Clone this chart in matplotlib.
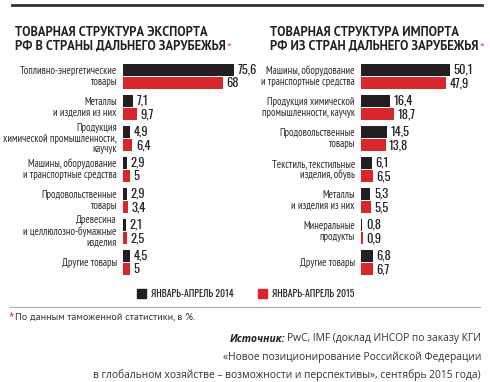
import matplotlib
matplotlib.use("Agg")
import matplotlib.pyplot as plt
from matplotlib.lines import Line2D
from matplotlib.patches import Rectangle

# данные
exp_labels = ["Топливно-энергетические\nтовары", "Металлы\nи изделия из них",
              "Продукция\nхимической промышленности,\nкаучук",
              "Машины, оборудование\nи транспортные средства",
              "Продовольственные\nтовары", "Древесина\nи целлюлозно-бумажные\nизделия",
              "Другие товары"]
exp_2014 = [75.6, 7.1, 4.9, 2.9, 2.9, 2.1, 4.5]
exp_2015 = [68, 9.7, 6.4, 5, 3.4, 2.5, 5]

imp_labels = ["Машины, оборудование\nи транспортные средства",
              "Продукция химической\nпромышленности, каучук",
              "Продовольственные\nтовары", "Текстиль, текстильные\nизделия, обувь",
              "Металлы\nи изделия из них", "Минеральные\nпродукты", "Другие товары"]
imp_2014 = [50.1, 16.4, 14.5, 6.1, 5.3, 0.8, 6.8]
imp_2015 = [47.9, 18.7, 13.8, 6.5, 5.5, 0.9, 6.7]

legend_labels = ["ЯНВАРЬ-АПРЕЛЬ 2014", "ЯНВАРЬ-АПРЕЛЬ 2015"]

BLACK = "#231f20"
RED = "#d8262c"
W, H = 490, 382
plt.rcParams["font.family"] = ["Open Sans", "DejaVu Sans"]
narrow = ["PT Sans Narrow", "Roboto", "DejaVu Sans"]
digits = ["Oswald", "PT Sans Narrow", "DejaVu Sans"]
head = ["PT Sans", "Open Sans", "DejaVu Sans"]

fig = plt.figure(figsize=(W / 100, H / 100), dpi=100)


def px(x, y):
    return x / W, 1 - y / H


def panel(left, scale, labels, v14, v15):
    width = 120
    ax = fig.add_axes([left / W, 1 - 278 / H, width / W, 217 / H])
    ax.set_xlim(0, width / scale)
    ax.set_ylim(6.5, -0.5)
    ax.axis("off")
    pos = list(range(len(labels)))
    ax.barh([p - 0.22 for p in pos], v14, height=0.38, color=BLACK)
    ax.barh([p + 0.22 for p in pos], v15, height=0.38, color=RED)
    for p, a, b, lab in zip(pos, v14, v15, labels):
        for val, off in ((a, -0.22), (b, 0.22)):
            ax.annotate(f"{val:g}".replace(".", ","), (val, p + off), xytext=(2.5, 0),
                        textcoords="offset points", va="center", ha="left",
                        fontsize=9, fontweight="bold", family=digits, color=BLACK)
        ax.annotate(lab, (0, p), xytext=(-4.5, 0), textcoords="offset points",
                    va="center", ha="right", fontsize=7.6, family=narrow,
                    color="#2a2a2a", linespacing=1.1)
    return ax


panel(123, 1.47, exp_labels, exp_2014, exp_2015)
panel(361, 1.78, imp_labels, imp_2014, imp_2015)

# заголовки
fig.add_artist(Line2D([12 / W, 482 / W], [1 - 5 / H] * 2, color="#333333", lw=2))
for x, t1, t2 in ((15, "ТОВАРНАЯ СТРУКТУРА ЭКСПОРТА", "РФ В СТРАНЫ ДАЛЬНЕГО ЗАРУБЕЖЬЯ"),
                  (270, "ТОВАРНАЯ СТРУКТУРА ИМПОРТА", "РФ ИЗ СТРАН ДАЛЬНЕГО ЗАРУБЕЖЬЯ")):
    fig.text(*px(x, 32), t1, fontsize=9, fontweight="bold", family=head,
             color=BLACK, va="center")
    t = fig.text(*px(x, 46), t2, fontsize=9, fontweight="bold", family=head,
                 color=BLACK, va="center")
    fig.canvas.draw()
    bb = t.get_window_extent()
    fig.text(bb.x1 / W + 1 / W, 1 - 46 / H, "*", fontsize=6, color=RED, va="center")

# легенда
for x, col, lab in ((137, BLACK, legend_labels[0]), (258, RED, legend_labels[1])):
    fig.add_artist(Rectangle(px(x, 298), 9 / W, 9 / H, color=col))
    fig.text(*px(x + 14, 294), lab, fontsize=7, fontweight="bold", family=digits,
             color=BLACK, va="center")

fig.add_artist(Line2D([10 / W, 480 / W], [1 - 307 / H] * 2, color="#aaaaaa", lw=0.8))
fig.text(*px(9, 317), "*", fontsize=7, color=RED, va="center")
fig.text(*px(15, 317), "По данным таможенной статистики, в %.", fontsize=7.3,
         family=head, color="#333333", va="center")

# источник
r = fig.text(*px(481, 339), "PwC, IMF (доклад ИНСОР по заказу КГИ", fontsize=7.4,
             color="#333333", ha="right", va="center")
fig.canvas.draw()
bb = r.get_window_extent()
fig.text(bb.x0 / W - 2 / W, 1 - 339 / H, "Источник:", fontsize=7.4, fontweight="bold",
         style="italic", color=BLACK, ha="right", va="center")
fig.text(*px(481, 357), "«Новое позиционирование Российской Федерации", fontsize=7.4,
         color="#333333", ha="right", va="center")
fig.text(*px(481, 375), "в глобальном хозяйстве – возможности и перспективы», сентябрь 2015 года)",
         fontsize=7.4, color="#333333", ha="right", va="center")

fig.savefig("out.png", dpi=100)
